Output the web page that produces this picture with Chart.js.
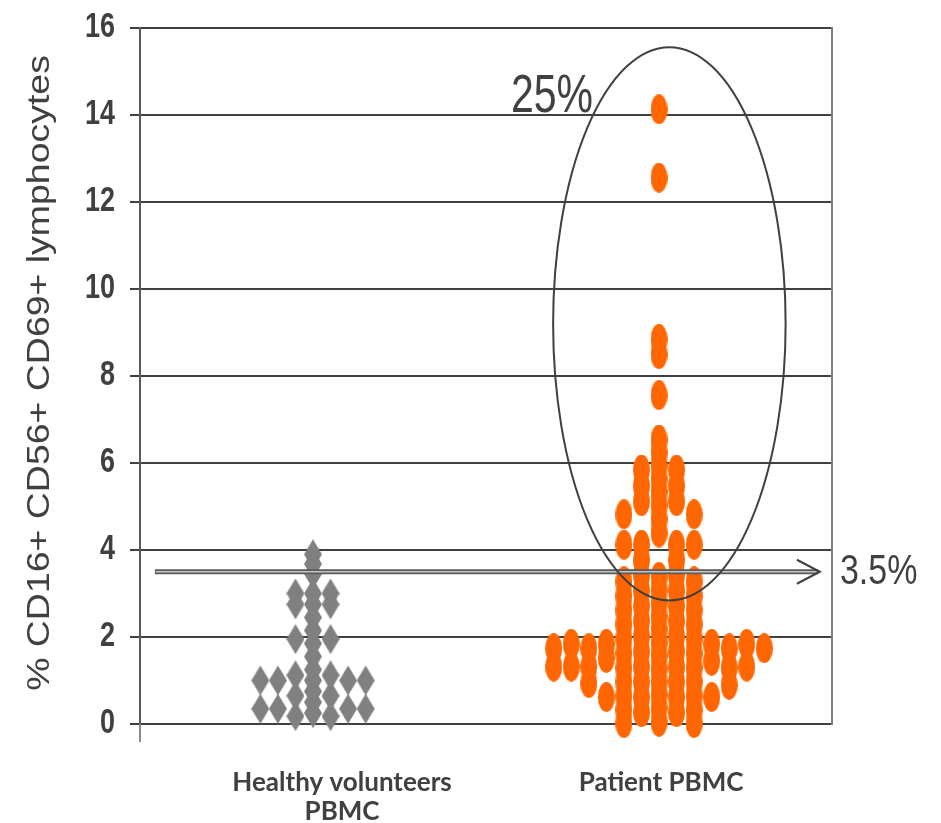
<!DOCTYPE html>
<html>
<head>
<meta charset="utf-8">
<script src="https://cdn.jsdelivr.net/npm/chart.js@4.4.1/dist/chart.umd.min.js"></script>
<style>
  html, body { margin: 0; padding: 0; background: #ffffff; }
  #c { display: block; }
</style>
</head>
<body>
<canvas id="c" width="941" height="823"></canvas>
<script>
// ---- data -------------------------------------------------------------
const groupLabels = [['Healthy volunteers', 'PBMC'], ['Patient PBMC']];
const yAxisTitle = '% CD16+ CD56+ CD69+ lymphocytes';
const yTickValues = [0, 2, 4, 6, 8, 10, 12, 14, 16];

// healthy donors: % activated NK cells, with the dot-plot column of each point
const healthyValues = [
  1.0, 0.35,
  1.0, 0.35,
  3.0, 2.75, 1.95, 1.12, 0.65, 0.18,
  3.9, 3.68, 3.45, 3.0, 2.75, 2.45, 2.15, 1.85, 1.55, 1.25, 1.0, 0.75, 0.5, 0.25,
  3.0, 2.75, 1.95, 1.12, 0.65, 0.18,
  1.0, 0.35,
  1.0, 0.35
];
const healthyColumns = [
  -3, -3,
  -2, -2,
  -1, -1, -1, -1, -1, -1,
  0, 0, 0, 0, 0, 0, 0, 0, 0, 0, 0, 0, 0, 0,
  1, 1, 1, 1, 1, 1,
  2, 2,
  3, 3
];

// patients
const patientValues = [
  1.74, 1.32,
  1.84, 1.32,
  1.74, 1.32, 0.94,
  1.84, 1.52, 0.62,
  4.82, 4.12, 3.28, 2.95, 2.62, 2.3, 1.96, 1.63, 1.3, 0.97, 0.65, 0.33, 0.02,
  5.85, 5.48, 5.12, 4.12, 3.77, 3.42, 3.07, 2.72, 2.37, 2.02, 1.67, 1.32, 0.97, 0.62, 0.27,
  14.13, 12.56, 8.85, 8.5, 7.56, 6.54, 6.24, 5.94, 5.64, 5.34, 5.04, 4.72, 4.4,
  3.38, 3.08, 2.78, 2.48, 2.18, 1.88, 1.58, 1.28, 0.98, 0.68, 0.38, 0.05,
  5.85, 5.48, 5.12, 4.12, 3.77, 3.42, 3.07, 2.72, 2.37, 2.02, 1.67, 1.32, 0.97, 0.62, 0.27,
  4.82, 4.12, 3.28, 2.95, 2.62, 2.3, 1.96, 1.63, 1.3, 0.97, 0.65, 0.33, 0.02,
  1.84, 1.45, 0.62,
  1.74, 1.3, 0.9,
  1.84, 1.32,
  1.74
];
const patientColumns = [
  -6, -6,
  -5, -5,
  -4, -4, -4,
  -3, -3, -3,
  -2, -2, -2, -2, -2, -2, -2, -2, -2, -2, -2, -2, -2,
  -1, -1, -1, -1, -1, -1, -1, -1, -1, -1, -1, -1, -1, -1, -1,
  0, 0, 0, 0, 0, 0, 0, 0, 0, 0, 0, 0, 0,
  0, 0, 0, 0, 0, 0, 0, 0, 0, 0, 0, 0,
  1, 1, 1, 1, 1, 1, 1, 1, 1, 1, 1, 1, 1, 1, 1,
  2, 2, 2, 2, 2, 2, 2, 2, 2, 2, 2, 2, 2,
  3, 3, 3,
  4, 4, 4,
  5, 5,
  6
];

const cutoffValue = 3.5;          // activation cut-off (%)
const highGroupLabel = '25%';     // share of patients inside the marked group

// ---- layout / style ---------------------------------------------------
const columnStep = 0.0507;        // horizontal spacing of dot-plot columns (x units)
const labelAnchors = [1.084, 2.006]; // where the two group captions sit on the x axis
const textColor = '#404040';
const gridColor = '#404040';
const grey = '#808080';
const orange = '#FF6600';
const textStretch = 1.27;         // vertical stretch of the axis lettering

function markerImage(kind, w, h, color) {
  const c = document.createElement('canvas');
  c.width = w; c.height = h;
  const g = c.getContext('2d');
  g.fillStyle = color;
  g.beginPath();
  if (kind === 'diamond') {
    g.moveTo(w / 2, 0); g.lineTo(w, h / 2); g.lineTo(w / 2, h); g.lineTo(0, h / 2);
    g.closePath();
  } else {
    g.ellipse(w / 2, h / 2, w / 2, h / 2, 0, 0, Math.PI * 2);
  }
  g.fill();
  return c;
}
const diamond = markerImage('diamond', 18, 30, grey);
const oval = markerImage('oval', 17, 30, orange);

function toPoints(values, columns, centre) {
  return values.map((v, i) => ({ x: centre + columns[i] * columnStep, y: v }));
}

function drawStretched(ctx, text, x, y, font, align, baseline, sx, sy, rotate) {
  ctx.save();
  ctx.translate(x, y);
  if (rotate) ctx.rotate(rotate);
  ctx.scale(sx, sy);
  ctx.font = font;
  ctx.fillStyle = textColor;
  ctx.textAlign = align;
  ctx.textBaseline = baseline;
  ctx.fillText(text, 0, 0);
  ctx.restore();
}

// Axis lettering, frame, cut-off arrow and the circled high group
const decorations = {
  id: 'decorations',
  beforeDatasetsDraw(chart) {
    const { ctx, chartArea: a, scales: { y } } = chart;
    ctx.save();
    // right frame edge
    ctx.strokeStyle = grey;
    ctx.lineWidth = 2;
    ctx.beginPath();
    ctx.moveTo(a.right, a.top - 1);
    ctx.lineTo(a.right, a.bottom + 1);
    ctx.stroke();
    // value axis running on below zero
    ctx.strokeStyle = '#8a8a8a';
    ctx.beginPath();
    ctx.moveTo(a.left, a.bottom);
    ctx.lineTo(a.left, a.bottom + 18);
    ctx.stroke();
    ctx.restore();

    // tick labels of the value axis
    y.ticks.forEach(t => {
      drawStretched(ctx, String(t.value), a.left - 25, y.getPixelForValue(t.value),
        'bold 27px "Liberation Sans", Arial, sans-serif', 'right', 'middle', 1, textStretch);
    });
    // value axis title
    drawStretched(ctx, yAxisTitle, 40, (a.top + a.bottom) / 2 - 3,
      '32px "Liberation Sans", Arial, sans-serif', 'center', 'middle', 1.17, 1, -Math.PI / 2);
  },
  afterDatasetsDraw(chart) {
    const { ctx, scales: { x, y } } = chart;
    ctx.save();
    // cut-off arrow
    const yc = y.getPixelForValue(cutoffValue);
    const x0 = x.getPixelForValue(0.543);
    const x1 = x.getPixelForValue(2.465);
    ctx.lineCap = 'butt';
    ctx.strokeStyle = '#5a5a5a';
    ctx.lineWidth = 5;
    ctx.beginPath(); ctx.moveTo(x0, yc); ctx.lineTo(x1 - 2, yc); ctx.stroke();
    ctx.strokeStyle = '#c4c4c4';
    ctx.lineWidth = 1.5;
    ctx.beginPath(); ctx.moveTo(x0 + 1, yc); ctx.lineTo(x1 - 3, yc); ctx.stroke();
    ctx.strokeStyle = '#404040';
    ctx.lineWidth = 2;
    ctx.beginPath();
    ctx.moveTo(x1 - 23, yc - 12); ctx.lineTo(x1, yc); ctx.lineTo(x1 - 23, yc + 12);
    ctx.stroke();

    // ellipse around the high responders
    const cx = x.getPixelForValue(2.03), cy = y.getPixelForValue(9.2);
    const rx = x.getPixelForValue(2.03 + 0.336) - cx;
    const ry = cy - y.getPixelForValue(9.2 + 6.36);
    ctx.strokeStyle = '#404040';
    ctx.lineWidth = 2;
    ctx.beginPath();
    ctx.ellipse(cx, cy, rx, ry, 0, 0, Math.PI * 2);
    ctx.stroke();
    ctx.restore();

    drawStretched(ctx, cutoffValue + '%', x.getPixelForValue(2.523), yc,
      '34px "Liberation Sans", Arial, sans-serif', 'left', 'middle', 1, textStretch);
    drawStretched(ctx, highGroupLabel, x.getPixelForValue(1.572), y.getPixelForValue(14.08),
      '41px "Liberation Sans", Arial, sans-serif', 'left', 'alphabetic', 1, 1.33);
  }
};

new Chart(document.getElementById('c'), {
  type: 'scatter',
  data: {
    datasets: [
      {
        label: 'Healthy volunteers PBMC',
        data: toPoints(healthyValues, healthyColumns, 1),
        pointStyle: diamond,
        pointRadius: 9,
        clip: false
      },
      {
        label: 'Patient PBMC',
        data: toPoints(patientValues, patientColumns, 2),
        pointStyle: oval,
        pointRadius: 9,
        clip: false
      }
    ]
  },
  options: {
    responsive: false,
    animation: false,
    devicePixelRatio: 1,
    layout: { padding: { top: 28, right: 109, left: 0, bottom: 0 } },
    plugins: { legend: { display: false }, tooltip: { enabled: false } },
    scales: {
      x: {
        type: 'linear',
        min: 0.5,
        max: 2.5,
        afterBuildTicks: s => { s.ticks = labelAnchors.map(v => ({ value: v })); },
        afterFit: s => { s.height = 99; },
        grid: { display: false },
        border: { display: false },
        ticks: {
          autoSkip: false,
          maxRotation: 0,
          padding: 36,
          color: textColor,
          font: { family: 'Lato, "Open Sans", sans-serif', size: 26, weight: 'bold', lineHeight: 1.12 },
          callback: (v, i) => groupLabels[i]
        }
      },
      y: {
        min: 0,
        max: 16,
        afterBuildTicks: s => { s.ticks = yTickValues.map(v => ({ value: v })); },
        afterFit: s => { s.width = 140; },
        grid: { color: gridColor, lineWidth: 2, tickLength: 10, drawTicks: true },
        border: { display: true, color: '#5a5a5a', width: 2 },
        ticks: { display: false }
      }
    }
  },
  plugins: [decorations]
});
</script>
</body>
</html>
